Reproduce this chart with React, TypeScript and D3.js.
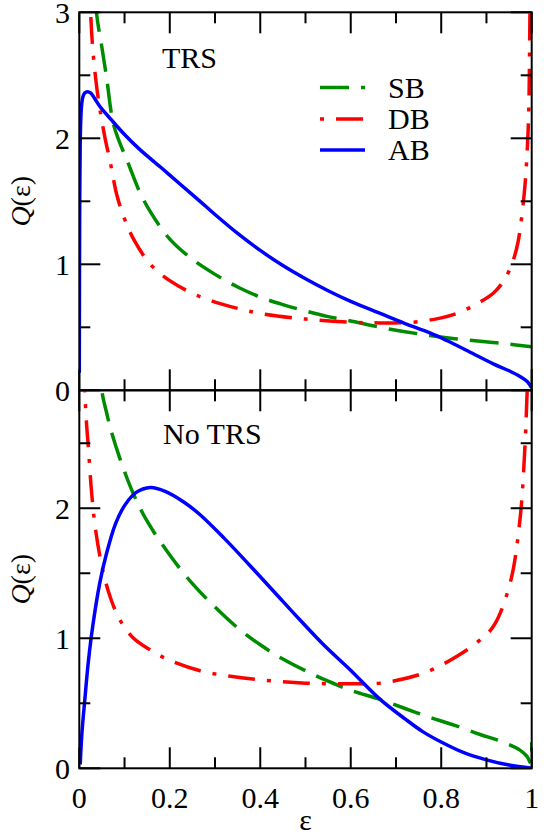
import React from "react";
import * as d3 from "d3";

// ---- axis ticks ----
const xMajorTicks = [0, 0.2, 0.4, 0.6, 0.8, 1];
const xTickLabels = ["0", "0.2", "0.4", "0.6", "0.8", "1"];
const xMinorTicks = [0.1, 0.3, 0.5, 0.7, 0.9];
const topYMajor = [0, 1, 2, 3];
const topYLabels = ["0", "1", "2", "3"];
const botYMajor = [0, 1, 2];
const botYLabels = ["0", "1", "2"];
const topYMinor = [0.5, 1.5, 2.5];
const botYMinor = [0.5, 1.5, 2.5];

// ---- series names ----
const seriesNames = ["SB", "DB", "AB"];
const panelNames = ["TRS", "No TRS"];

// ---- top panel (TRS) ----
const eTopSB = [0.033, 0.038, 0.05, 0.06, 0.075, 0.09, 0.105, 0.134, 0.16, 0.2, 0.25, 0.3, 0.35, 0.4, 0.45, 0.5, 0.55, 0.6, 0.665, 0.72, 0.775, 0.83, 0.886, 0.94, 1];
const qTopSB = [3.4, 3.0, 2.72, 2.49, 2.12, 1.96, 1.83, 1.57, 1.4, 1.2, 1.04, 0.92, 0.82, 0.74, 0.68, 0.63, 0.585, 0.55, 0.5, 0.465, 0.435, 0.41, 0.39, 0.37, 0.346];

const eTopDB = [0.022, 0.025, 0.03, 0.038, 0.046, 0.057, 0.068, 0.083, 0.1, 0.12, 0.157, 0.2, 0.25, 0.3, 0.35, 0.4, 0.5, 0.6, 0.665, 0.738, 0.8, 0.834, 0.87, 0.915, 0.94, 0.959, 0.97, 0.978, 0.985, 0.989, 0.992, 0.994, 0.996, 0.998];
const qTopDB = [3.4, 3.0, 2.7, 2.42, 2.22, 2.0, 1.82, 1.55, 1.36, 1.2, 1.0, 0.87, 0.77, 0.7, 0.65, 0.61, 0.565, 0.54, 0.535, 0.54, 0.575, 0.61, 0.67, 0.77, 0.88, 1.03, 1.18, 1.38, 1.62, 1.83, 2.05, 2.3, 2.95, 3.5];

const eTopAB = [0, 0.0005, 0.001, 0.002, 0.003, 0.005, 0.008, 0.012, 0.018, 0.025, 0.035, 0.046, 0.07, 0.1, 0.134, 0.18, 0.22, 0.267, 0.3, 0.35, 0.4, 0.45, 0.5, 0.55, 0.6, 0.665, 0.72, 0.775, 0.812, 0.86, 0.915, 0.95, 0.974, 0.99, 1];
const qTopAB = [0.14, 1.0, 1.5, 1.95, 2.12, 2.26, 2.33, 2.36, 2.37, 2.36, 2.31, 2.25, 2.15, 2.03, 1.91, 1.77, 1.645, 1.5, 1.395, 1.245, 1.11, 0.99, 0.885, 0.79, 0.705, 0.61, 0.53, 0.455, 0.395, 0.31, 0.21, 0.155, 0.11, 0.07, 0.02];

// ---- bottom panel (No TRS) ----
const eBotSB = [0.045, 0.05, 0.06, 0.07, 0.09, 0.119, 0.15, 0.2, 0.25, 0.3, 0.35, 0.4, 0.45, 0.5, 0.55, 0.6, 0.665, 0.72, 0.768, 0.83, 0.886, 0.93, 0.974, 0.99, 0.998, 1];
const qBotSB = [3.2, 2.9, 2.74, 2.6, 2.38, 2.115, 1.9, 1.64, 1.42, 1.24, 1.08, 0.95, 0.84, 0.75, 0.67, 0.6, 0.53, 0.46, 0.4, 0.33, 0.26, 0.21, 0.14, 0.09, 0.04, 0.2];

const eBotDB = [0.011, 0.0126, 0.016, 0.02, 0.027, 0.035, 0.052, 0.07, 0.09, 0.12, 0.157, 0.2, 0.267, 0.33, 0.4, 0.5, 0.6, 0.665, 0.76, 0.834, 0.88, 0.915, 0.952, 0.974, 0.985, 0.989, 0.992];
const qBotDB = [3.1, 2.88, 2.65, 2.47, 2.13, 1.86, 1.52, 1.3, 1.14, 1.0, 0.91, 0.83, 0.75, 0.71, 0.68, 0.655, 0.65, 0.655, 0.73, 0.86, 0.97, 1.09, 1.42, 1.91, 2.47, 2.81, 3.1];

const eBotAB = [0.002, 0.006, 0.012, 0.02, 0.03, 0.045, 0.06, 0.08, 0.1, 0.125, 0.157, 0.19, 0.23, 0.267, 0.32, 0.377, 0.43, 0.488, 0.54, 0.598, 0.665, 0.72, 0.76, 0.801, 0.85, 0.9, 0.95, 1];
const qBotAB = [0.03, 0.28, 0.52, 0.82, 1.1, 1.42, 1.65, 1.88, 2.02, 2.12, 2.16, 2.13, 2.05, 1.95, 1.77, 1.56, 1.36, 1.14, 0.95, 0.76, 0.53, 0.38, 0.28, 0.2, 0.12, 0.065, 0.025, 0];

const colors = { SB: "#008c00", DB: "#ff0000", AB: "#0000ff" };
const dashes = { SB: "29,12", DB: "27,12,4,12", AB: "none" };

const FONT = "Liberation Serif";
const FS = 30;

const L = 79.3, R = 531.7, T1 = 12.3, B1 = 390.3, B2 = 768.3;

export default function App() {
  const x = d3.scaleLinear().domain([0, 1]).range([L, R]);
  const yTop = d3.scaleLinear().domain([0, 3]).range([B1, T1]);
  const yBot = d3.scaleLinear().domain([0, 2.907]).range([B2, B1]);

  const mk = (ys: d3.ScaleLinear<number, number>, es: number[], qs: number[]) =>
    d3.line<number>().x((d) => x(es[d])).y((d) => ys(qs[d])).curve(d3.curveCatmullRom.alpha(0.5))(es.map((_, i) => i)) || "";

  const panels = [
    { name: panelNames[0], y: yTop, top: T1, bot: B1, yMajor: topYMajor, yLabels: topYLabels, yMinor: topYMinor,
      series: [
        { key: "SB", e: eTopSB, q: qTopSB },
        { key: "DB", e: eTopDB, q: qTopDB },
        { key: "AB", e: eTopAB, q: qTopAB },
      ], labelX: 162, labelY: 68 },
    { name: panelNames[1], y: yBot, top: B1, bot: B2, yMajor: botYMajor, yLabels: botYLabels, yMinor: botYMinor,
      series: [
        { key: "SB", e: eBotSB, q: qBotSB },
        { key: "DB", e: eBotDB, q: qBotDB },
        { key: "AB", e: eBotAB, q: qBotAB },
      ], labelX: 163, labelY: 444 },
  ];

  const MAJ = 21, MIN = 11;
  const txt = { fontFamily: FONT, fontSize: FS };

  return (
    <svg width={553} height={836} style={{ position: "absolute", left: 0, top: 0, background: "#fff" }}>
      <defs>
        {panels.map((p, i) => (
          <clipPath id={`clip${i}`} key={i}>
            <rect x={L} y={p.top} width={R - L} height={p.bot - p.top} />
          </clipPath>
        ))}
      </defs>
      {panels.map((p, i) => (
        <g key={i}>
          <g clipPath={`url(#clip${i})`}>
            {p.series.map((s) => (
              <path key={s.key} d={mk(p.y, s.e, s.q)} fill="none" stroke={(colors as any)[s.key]}
                strokeWidth={3.5} strokeDasharray={(dashes as any)[s.key]} strokeLinejoin="round" />
            ))}
          </g>
          <rect x={L} y={p.top} width={R - L} height={p.bot - p.top} fill="none" stroke="#000" strokeWidth={2} />
          {xMajorTicks.map((t) => (
            <g key={"xM" + t}>
              <line x1={x(t)} x2={x(t)} y1={p.top} y2={p.top + MAJ} stroke="#000" strokeWidth={2} />
              <line x1={x(t)} x2={x(t)} y1={p.bot} y2={p.bot - MAJ} stroke="#000" strokeWidth={2} />
            </g>
          ))}
          {xMinorTicks.map((t) => (
            <g key={"xm" + t}>
              <line x1={x(t)} x2={x(t)} y1={p.top} y2={p.top + MIN} stroke="#000" strokeWidth={2} />
              <line x1={x(t)} x2={x(t)} y1={p.bot} y2={p.bot - MIN} stroke="#000" strokeWidth={2} />
            </g>
          ))}
          {p.yMajor.map((t) => (
            <g key={"yM" + t}>
              <line x1={L} x2={L + MAJ} y1={p.y(t)} y2={p.y(t)} stroke="#000" strokeWidth={2} />
              <line x1={R} x2={R - MAJ} y1={p.y(t)} y2={p.y(t)} stroke="#000" strokeWidth={2} />
            </g>
          ))}
          {p.yMinor.map((t) => (
            <g key={"ym" + t}>
              <line x1={L} x2={L + MIN} y1={p.y(t)} y2={p.y(t)} stroke="#000" strokeWidth={2} />
              <line x1={R} x2={R - MIN} y1={p.y(t)} y2={p.y(t)} stroke="#000" strokeWidth={2} />
            </g>
          ))}
          {p.yMajor.map((t, k) => (
            <text key={"yl" + t} x={70} y={p.y(t) + 10.5} textAnchor="end" style={txt}>{p.yLabels[k]}</text>
          ))}
          <text transform={`translate(30,${(p.top + p.bot) / 2}) rotate(-90)`} textAnchor="middle" style={{ fontFamily: FONT, fontSize: 28 }}>
            <tspan style={{ fontStyle: "italic" }}>Q</tspan>(ε)
          </text>
          <text x={p.labelX} y={p.labelY} style={txt}>{p.name}</text>
        </g>
      ))}
      {xMajorTicks.map((t, k) => (
        <text key={"xl" + t} x={x(t)} y={808} textAnchor="middle" style={txt}>{xTickLabels[k]}</text>
      ))}
      <text x={(L + R) / 2} y={830} textAnchor="middle" style={txt}>ε</text>
      {seriesNames.map((s, k) => {
        const ly = [87.5, 119, 150][k];
        return (
          <g key={s}>
            <line x1={320} x2={365} y1={ly} y2={ly} stroke={(colors as any)[s]} strokeWidth={3.5}
              strokeDasharray={(dashes as any)[s]} strokeDashoffset={s === "DB" ? 39 : 0} />
            <text x={388} y={[98, 129, 160][k]} style={txt}>{s}</text>
          </g>
        );
      })}
    </svg>
  );
}
